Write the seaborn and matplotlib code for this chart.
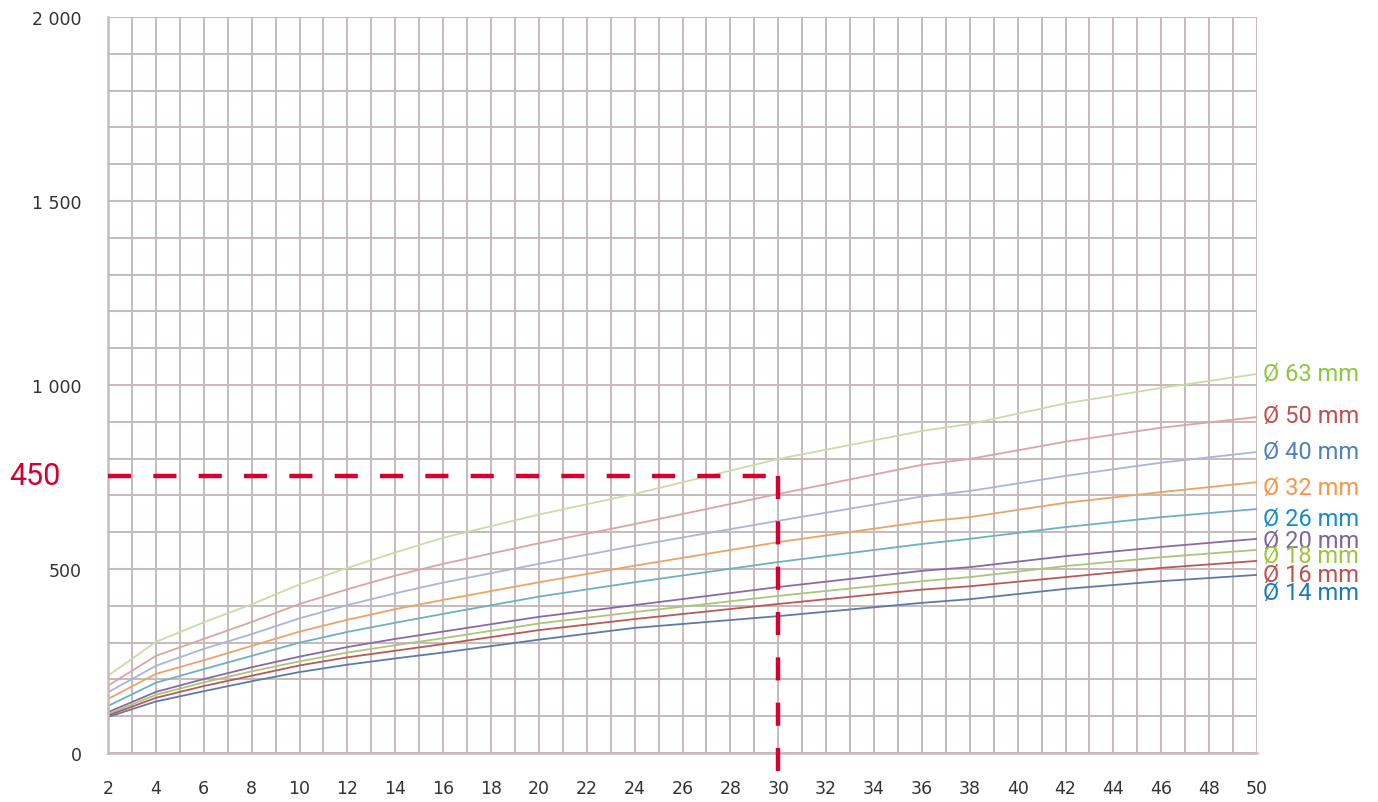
import numpy as np
import pandas as pd
import matplotlib
matplotlib.use("Agg")
import matplotlib.pyplot as plt
from matplotlib.ticker import MultipleLocator, FuncFormatter
import seaborn as sns

# ─── Data ─────────────────────────────────────────────────────────────────────

x_vals = [2, 4, 6, 8, 10, 12, 14, 16, 20, 24, 30, 36, 38, 42, 46, 50]

d63 = [210, 302, 355, 404, 458, 503, 545, 585, 648, 704, 799, 875, 894, 950, 992, 1030]
d50 = [183, 264, 310, 356, 405, 445, 482, 514, 570, 622, 704, 783, 799, 846, 884, 913]
d40 = [165, 237, 283, 323, 366, 402, 434, 463, 514, 563, 631, 697, 712, 753, 789, 818]
d32 = [147, 215, 252, 291, 330, 362, 391, 416, 464, 509, 573, 628, 641, 680, 709, 736]
d26 = [128, 191, 228, 264, 300, 329, 354, 378, 425, 464, 519, 568, 582, 614, 641, 663]
d20 = [111, 166, 201, 233, 262, 288, 310, 330, 370, 402, 451, 495, 505, 535, 560, 582]
d18 = [106, 158, 192, 222, 249, 273, 293, 312, 352, 383, 427, 467, 478, 508, 532, 552]
d16 = [102, 150, 182, 210, 238, 260, 278, 296, 334, 364, 405, 444, 453, 478, 503, 522]
d14 = [98, 140, 168, 195, 220, 240, 257, 273, 308, 340, 372, 408, 418, 446, 467, 484]

series_names = ["Ø 63 mm", "Ø 50 mm", "Ø 40 mm", "Ø 32 mm", "Ø 26 mm",
                "Ø 20 mm", "Ø 18 mm", "Ø 16 mm", "Ø 14 mm"]
series_vals = [d63, d50, d40, d32, d26, d20, d18, d16, d14]

# faded line colours and stronger label colours
line_colors = ["#c9dca8", "#dca4a2", "#a9b6d8", "#eaa46a", "#6fb0c0",
               "#8a6aa6", "#a9c67c", "#b85a58", "#5e7aa8"]
label_colors = ["#8dc63f", "#c0504d", "#4f81bd", "#f79646", "#1a8ad0",
                "#8064a2", "#9bc53d", "#c0504d", "#1f78b8"]
label_y = [1030, 918, 820, 722, 638, 578, 537, 486, 437]

# marked reading
mark_x = 30
mark_y = 753
mark_text = "450"

df = pd.DataFrame({
    "x": x_vals * len(series_names),
    "y": sum(series_vals, []),
    "series": np.repeat(series_names, len(x_vals)),
})

# ─── Figure ───────────────────────────────────────────────────────────────────

sns.set_theme(style="white")
plt.rcParams["font.family"] = ["DejaVu Sans"]

fig = plt.figure(figsize=(13.78, 8.03), dpi=100)
ax = fig.add_axes([0.0784, 0.061, 0.8338, 0.9166])

grid_c = "#c6baba"

sns.lineplot(
    data=df, x="x", y="y", hue="series", hue_order=series_names,
    palette=line_colors, linewidth=1.3, legend=False, ax=ax,
)

ax.set_xlim(2, 50)
ax.set_ylim(0, 2000)
ax.xaxis.set_major_locator(MultipleLocator(2))
ax.xaxis.set_minor_locator(MultipleLocator(1))
ax.yaxis.set_major_locator(MultipleLocator(500))
ax.yaxis.set_minor_locator(MultipleLocator(100))
ax.yaxis.set_major_formatter(FuncFormatter(
    lambda v, p: f"{int(v):,}".replace(",", " ")))

ax.grid(True, which="both", color=grid_c, linewidth=1.4)
ax.set_axisbelow(True)
for s in ["top", "right"]:
    ax.spines[s].set_visible(False)
for s in ["left", "bottom"]:
    ax.spines[s].set_color(grid_c)
    ax.spines[s].set_linewidth(1.8)

ax.tick_params(axis="both", which="major", direction="out", length=7,
               width=1.6, color=grid_c, labelsize=12.5, labelcolor="#333333")
ax.tick_params(axis="x", which="major", pad=12)
ax.tick_params(axis="y", which="major", pad=12)
ax.tick_params(which="minor", length=0)
ax.set_xlabel("")
ax.set_ylabel("")

# series labels at the right edge
for name, c, yy in zip(series_names, label_colors, label_y):
    ax.text(50.25, yy, name, color=c, fontsize=17, va="center", ha="left",
            family=["Roboto", "DejaVu Sans"], clip_on=False)

# red dashed reading lines
red = "#d50032"
dash = (0, (5.2, 5.0))
ax.plot([2, mark_x], [mark_y, mark_y], color=red, lw=3.2, linestyle=dash,
        clip_on=False, dash_capstyle="butt", zorder=5)
ax.plot([mark_x, mark_x], [mark_y, -80], color=red, lw=3.2, linestyle=dash,
        clip_on=False, dash_capstyle="butt", zorder=5)
fig.text(0.007, 1 - 477 / 803, mark_text, color=red, fontsize=22, va="center",
         ha="left", family=["Roboto", "DejaVu Sans"])

fig.savefig("out.png", dpi=100, facecolor="white")
